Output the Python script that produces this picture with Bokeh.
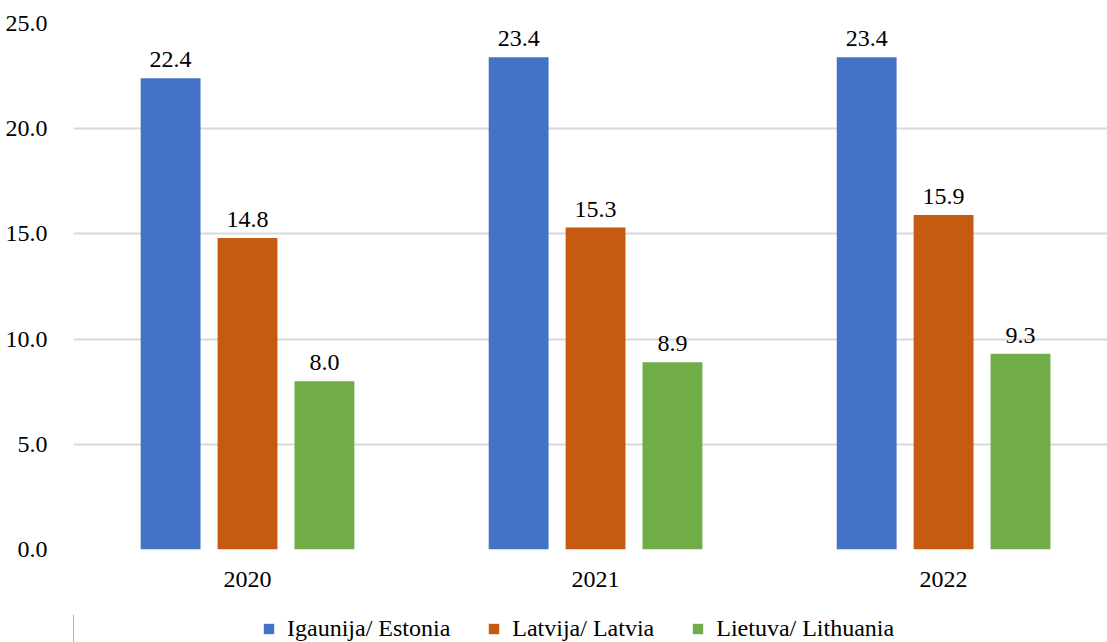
from bokeh.plotting import figure
from bokeh.layouts import column
from bokeh.models import ColumnDataSource, Range1d, FixedTicker, Legend, LegendItem, LabelSet
from bokeh.embed import file_html
from bokeh.resources import INLINE

years = ["2020", "2021", "2022"]
series = ["Igaunija/ Estonia", "Latvija/ Latvia", "Lietuva/ Lithuania"]
estonia = [22.4, 23.4, 23.4]
latvia = [14.8, 15.3, 15.9]
lithuania = [8.0, 8.9, 9.3]
colors = ["#4472C4", "#C55A11", "#70AD47"]
y_ticks = [0, 5, 10, 15, 20, 25]

FONT = "Liberation Serif"
FS = "24px"

p = figure(width=1107, height=614, output_backend="svg", toolbar_location=None,
           x_range=Range1d(-0.5, 2.471), y_range=Range1d(0, 25))
p.min_border_left = 73
p.min_border_right = 0
p.min_border_top = 23
p.min_border_bottom = 65
p.outline_line_color = None
p.background_fill_color = "white"
p.border_fill_color = "white"

offsets = [-0.221, 0.0, 0.221]
bar_w = 0.172
for vals, off, col in zip([estonia, latvia, lithuania], offsets, colors):
    xs = [i + off for i in range(len(years))]
    src = ColumnDataSource(dict(x=xs, top=vals, lab=["%.1f" % v for v in vals]))
    p.vbar(x="x", top="top", width=bar_w, bottom=0, source=src,
           fill_color=col, line_color=None)
    lbl = LabelSet(x="x", y="top", text="lab", source=src, text_align="center",
                   text_baseline="bottom", y_offset=11, text_font=FONT,
                   text_font_size=FS, text_color="#000000")
    p.add_layout(lbl)

p.xaxis.ticker = FixedTicker(ticks=[0, 1, 2])
p.xaxis.major_label_overrides = {i: y for i, y in enumerate(years)}
p.xaxis.axis_line_color = None
p.xaxis.major_tick_line_color = None
p.xaxis.minor_tick_line_color = None
p.xaxis.major_label_text_font = FONT
p.xaxis.major_label_text_font_size = FS
p.xaxis.major_label_text_color = "#000000"
p.xaxis.major_label_standoff = 16

p.yaxis.ticker = FixedTicker(ticks=y_ticks)
p.yaxis.major_label_overrides = {t: "%.1f" % t for t in y_ticks}
p.yaxis.axis_line_color = None
p.yaxis.major_tick_line_color = None
p.yaxis.minor_tick_line_color = None
p.yaxis.major_label_text_font = FONT
p.yaxis.major_label_text_font_size = FS
p.yaxis.major_label_text_color = "#000000"
p.yaxis.major_label_standoff = 20

p.xgrid.grid_line_color = None
p.ygrid.grid_line_color = "#D9D9D9"
p.ygrid.grid_line_width = 2

# legend strip below the chart
lg = figure(width=1107, height=28, output_backend="svg", toolbar_location=None,
            x_range=Range1d(0, 1), y_range=Range1d(0, 1),
            x_axis_type=None, y_axis_type=None)
lg.min_border_left = 0
lg.min_border_right = 0
lg.min_border_top = 0
lg.min_border_bottom = 0
lg.outline_line_color = None
lg.xgrid.visible = False
lg.ygrid.visible = False
items = []
for col, name in zip(colors, series):
    # legend swatches only: data placed outside the visible range
    r = lg.vbar(x=[-10], top=[1], width=0.1, fill_color=col, line_color=None)
    items.append(LegendItem(label=name, renderers=[r]))
legend = Legend(items=items, orientation="horizontal", location=(189, 0),
                label_text_font=FONT, label_text_font_size=FS,
                label_text_color="#000000", glyph_width=13, glyph_height=13,
                label_standoff=12, spacing=37, border_line_color=None,
                padding=0, margin=0, background_fill_alpha=0)
lg.add_layout(legend, "center")

layout = column(p, lg, spacing=0)
open("out.html", "w").write(file_html(layout, INLINE))
